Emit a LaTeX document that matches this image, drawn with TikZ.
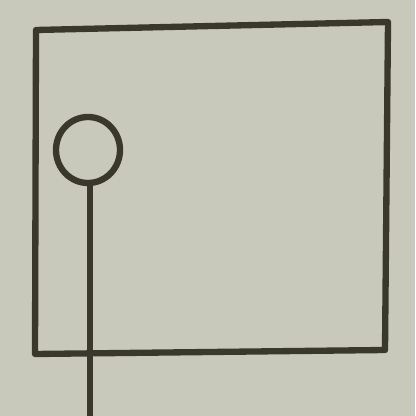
\documentclass[tikz,border=0pt]{standalone}
\usepackage{tikz}
\definecolor{paper}{RGB}{201,201,187}
\definecolor{ink}{RGB}{58,56,44}
\tikzset{
  every picture/.style={line join=round, line cap=round},
  pen/.style={draw=ink, line width=1.8pt},
}
\begin{document}
\begin{tikzpicture}
\fill[paper](0,0)rectangle(4.15,4.16);
\useasboundingbox(0,0)rectangle(4.15,4.16);
\draw[pen](0.36,3.86)--(3.88,3.94)--(3.85,0.66)--(0.35,0.62)--cycle;
\draw[pen](0.88,2.66)ellipse(0.32 and 0.33);
\draw[pen](0.90,2.33)--(0.90,0);
\end{tikzpicture}
\end{document}
